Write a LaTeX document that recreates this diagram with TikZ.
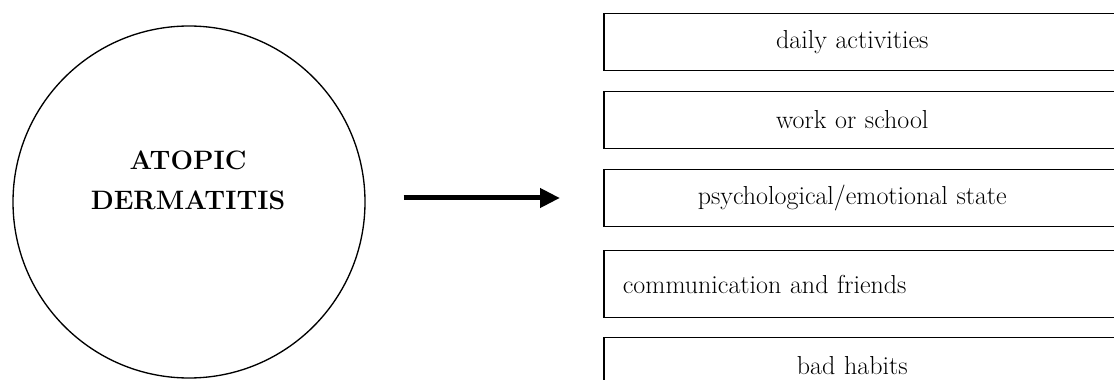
\documentclass[tikz,border=0pt]{standalone}
\usetikzlibrary{arrows.meta}
\tikzset{
  effect/.style={minimum width=372pt, minimum height=42pt, inner xsep=14pt,
    text width=344pt, align=center, anchor=west, font=\fontsize{19.5}{22}\selectfont},
  frame/.style={line width=1pt},
  flow/.style={line width=3.75pt, -{Triangle[length=15pt,width=14pt]}},
}
\begin{document}
\begin{tikzpicture}[x=0.75pt,y=0.75pt]
  \useasboundingbox (0,0) rectangle (1114,379);
  %% disease
  \node[circle, draw, line width=1pt, minimum size=264pt, inner sep=0pt] (ad) at (189,177) {};
  \node[align=center, font=\bfseries\fontsize{20}{30}\selectfont] (adname) at (188,199) {ATOPIC\\DERMATITIS};
  %% effects
  \node[effect] (daily) at (604,337) {daily activities};
  \node[effect] (work) at (604,259) {work or school};
  \node[effect] (psych) at (604,181) {psychological/emotional state};
  \node[effect, minimum height=49.5pt, align=left] (comm) at (604,95) {communication and friends};
  \node[effect] (habits) at (604,13) {bad habits};
  \foreach \n in {daily,work,psych,comm,habits}
    \draw[frame] ([xshift=40pt]\n.north east) -- (\n.north west) -- (\n.south west) -- ([xshift=40pt]\n.south east);
  %% arrow
  \draw[flow, shorten <=28.5pt, shorten >=33pt] (psych.west -| ad.east) -- (psych.west);
\end{tikzpicture}
\end{document}
